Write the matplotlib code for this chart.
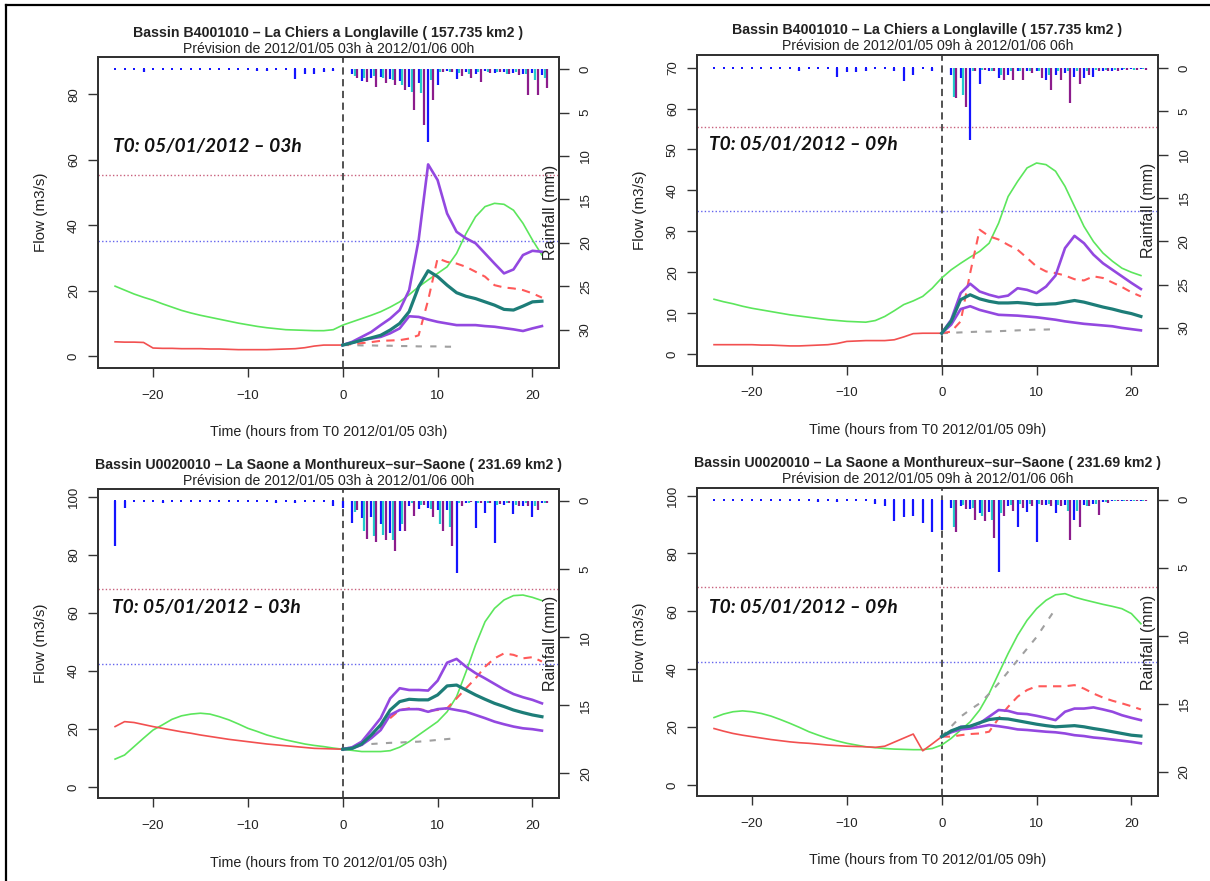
import numpy as np
import matplotlib.pyplot as plt
from matplotlib.lines import Line2D

plt.rcParams['font.family'] = ['Liberation Sans', 'DejaVu Sans']

# Heures (par rapport a T0)
h_obs = np.arange(-24, 1)      # debits observes
h_all = np.arange(-24, 22)     # simulation continue (verte)
h_fc = np.arange(0, 22)        # previsions
h_pers = np.arange(0, 13)      # persistance (grise)
h_rain_obs = np.arange(-24, 1)
h_rain_fc = np.arange(1, 22)

# ---- Panneau 1 : La Chiers, T0 = 03h ----
green_1 = [21.4, 20.2, 19.0, 18.0, 17.1, 16.0, 15.0, 14.0, 13.2, 12.5, 11.9, 11.3, 10.7, 10.1, 9.6, 9.1,
           8.7, 8.4, 8.1, 8.0, 7.9, 7.8, 7.8, 8.1, 9.5, 10.5, 11.5, 12.5, 13.6, 15.0, 16.6, 18.8, 21.2,
           23.3, 25.3, 27.3, 31.4, 37.5, 42.6, 45.7, 46.7, 46.4, 44.6, 40.6, 35.5, 30.9]
obs_1 = [4.4, 4.3, 4.3, 4.2, 2.5, 2.4, 2.4, 2.3, 2.3, 2.3, 2.2, 2.2, 2.1, 2.0, 2.0, 2.0, 2.0, 2.1, 2.2,
         2.3, 2.6, 3.1, 3.4, 3.4, 3.4]
fcst_1 = [3.4, 3.7, 4.0, 4.3, 4.7, 4.8, 4.9, 5.4, 6.4, 17.1, 29.9, 28.8, 28.3, 27.3, 25.8, 24.3, 21.7,
          21.0, 20.7, 20.2, 19.2, 17.9]
pers_1 = [3.4, 3.4, 3.3, 3.3, 3.2, 3.2, 3.1, 3.1, 3.0, 3.0, 3.0, 2.9, 2.9]
q_hi_1 = [3.4, 4.4, 5.9, 7.4, 9.5, 11.5, 14.1, 20.2, 35.5, 58.6, 53.8, 43.6, 38.0, 36.0, 34.5, 31.4,
          28.3, 25.3, 26.5, 30.9, 32.2, 31.9]
q_med_1 = [3.4, 4.1, 4.9, 5.6, 6.4, 8.0, 10.0, 13.6, 21.2, 26.1, 24.3, 21.7, 19.4, 18.3, 17.6, 16.6,
           15.6, 14.3, 14.1, 15.3, 16.6, 16.8]
q_lo_1 = [3.4, 4.1, 4.9, 5.4, 5.9, 7.0, 8.5, 12.2, 12.0, 11.2, 10.5, 10.0, 9.5, 9.5, 9.5, 9.2, 9.0,
          8.6, 8.2, 7.7, 8.5, 9.2]
rain_obs_1 = [0, 0, 0, 0.3, 0, 0, 0, 0, 0, 0, 0, 0, 0, 0, 0, 0.2, 0.2, 0, 0, 1.1, 0.5, 0.5, 0.3, 0.2, 0]
rain_b_1 = [0.5, 1.4, 1.0, 0.9, 1.1, 1.4, 2.0, 1.6, 8.4, 1.8, 0.2, 1.1, 0.3, 0.5, 0.2, 0.4, 0.3, 0.4,
            0.5, 0.4, 0.7]
rain_c_1 = [0.8, 1.0, 0.8, 1.0, 1.3, 1.8, 2.6, 2.7, 1.2, 0.3, 0.3, 0.4, 0.6, 0.3, 0.3, 0.3, 0.5, 0.3,
            0.6, 1.3, 1.0]
rain_p_1 = [1.0, 1.5, 2.0, 1.6, 1.8, 2.4, 4.7, 6.4, 3.6, 0.3, 0.3, 0.8, 1.0, 1.5, 0.4, 0.3, 0.6, 0.7,
            3.0, 3.0, 2.2]

# ---- Panneau 2 : La Chiers, T0 = 09h ----
green_2 = [13.4, 12.8, 12.3, 11.7, 11.2, 10.8, 10.4, 10.0, 9.6, 9.3, 9.0, 8.7, 8.4, 8.2, 8.0, 7.9, 7.8,
           8.2, 9.2, 10.6, 12.1, 13.0, 14.1, 16.1, 18.6, 20.6, 22.2, 23.7, 25.1, 27.1, 32.0, 38.5,
           42.2, 45.5, 46.7, 46.3, 44.7, 41.0, 36.1, 31.2, 27.5, 24.7, 22.7, 21.0, 20.0, 19.2]
obs_2 = [2.3, 2.3, 2.3, 2.3, 2.3, 2.2, 2.2, 2.1, 2.0, 2.0, 2.1, 2.2, 2.3, 2.6, 3.1, 3.2, 3.3, 3.3, 3.3,
         3.5, 4.2, 5.0, 5.1, 5.1, 5.1]
fcst_2 = [5.1, 5.5, 8.0, 19.8, 30.4, 28.8, 28.0, 26.7, 25.5, 23.5, 21.4, 20.2, 19.8, 19.2, 18.3, 18.0,
          19.0, 18.6, 17.5, 16.4, 15.1, 14.1]
pers_2 = [5.1, 5.2, 5.3, 5.4, 5.5, 5.5, 5.6, 5.7, 5.8, 5.9, 6.0, 6.0, 6.1]
q_hi_2 = [5.1, 8.4, 14.9, 17.2, 15.3, 14.5, 13.9, 14.3, 16.1, 15.7, 14.9, 16.5, 19.2, 25.9, 28.9, 27.1,
          24.3, 22.2, 20.6, 19.0, 17.4, 15.9]
q_med_2 = [5.1, 8.0, 13.3, 14.5, 13.5, 12.9, 12.5, 12.5, 12.6, 12.4, 12.1, 12.2, 12.3, 12.7, 13.1,
           12.7, 12.1, 11.5, 11.0, 10.4, 9.9, 9.2]
q_lo_2 = [5.1, 7.2, 11.0, 11.7, 10.8, 10.2, 9.6, 9.5, 9.4, 9.2, 9.0, 8.7, 8.4, 8.0, 7.7, 7.4, 7.2, 7.0,
          6.8, 6.4, 6.1, 5.8]
rain_obs_2 = [0, 0, 0, 0, 0, 0, 0, 0, 0, 0.4, 0, 0, 0, 1.0, 0.5, 0.5, 0.4, 0, 0, 0.3, 1.5, 0.8, 0, 0.4, 0]
rain_b_2 = [0.8, 1.2, 8.3, 1.8, 0.3, 1.2, 0.8, 0.4, 0.4, 0.3, 1.4, 0.8, 0.6, 1.0, 1.2, 1.0, 0.3, 0.3,
            0.2, 0.1, 0.1]
rain_c_2 = [3.3, 3.1, 0.3, 0.2, 0.3, 0.8, 0.4, 0.3, 0.4, 0.3, 0.8, 0.4, 0.3, 0.4, 0.3, 0.2, 0.2, 0.2,
            0.1, 0.2, 0.1]
rain_p_2 = [3.5, 4.5, 0.3, 0.2, 0.4, 1.4, 1.4, 1.4, 0.6, 1.2, 2.5, 1.4, 4.1, 1.8, 0.8, 0.4, 0.3, 0.3,
            0.2, 0.2, 0.2]

# ---- Panneau 3 : La Saone, T0 = 03h ----
green_3 = [9.6, 11.0, 13.9, 16.8, 19.6, 21.4, 23.3, 24.5, 25.1, 25.4, 25.1, 24.2, 23.1, 21.7, 20.2,
           19.1, 17.9, 17.0, 16.2, 15.5, 14.8, 14.3, 13.9, 13.4, 13.0, 12.6, 12.2, 12.2, 12.2, 12.5,
           13.7, 15.6, 17.9, 20.2, 22.5, 25.9, 31.1, 39.7, 48.9, 56.9, 61.5, 64.4, 65.9, 66.1, 65.3, 64.2]
obs_3 = [20.8, 22.5, 22.2, 21.5, 20.8, 20.2, 19.6, 19.0, 18.5, 17.9, 17.4, 16.9, 16.4, 16.0, 15.6,
         15.2, 14.8, 14.5, 14.2, 13.9, 13.6, 13.3, 13.2, 13.1, 13.0]
fcst_3 = [13.0, 13.3, 14.8, 17.3, 20.6, 23.7, 26.5, 27.1, 26.8, 26.3, 26.5, 27.1, 30.5, 34.0, 37.4,
          41.4, 44.3, 46.0, 45.5, 44.3, 44.7, 43.2]
pers_3 = [13.0, 13.8, 14.5, 14.8, 15.0, 15.2, 15.3, 15.5, 15.6, 15.9, 16.2, 16.5, 16.8]
q_hi_3 = [13.0, 13.7, 15.6, 19.6, 23.7, 30.5, 34.0, 33.4, 33.4, 33.2, 36.6, 42.8, 44.1, 41.4, 39.2,
          37.4, 35.5, 33.6, 32.0, 30.9, 30.0, 28.8]
q_med_3 = [13.0, 13.3, 14.8, 17.9, 21.4, 26.5, 29.4, 30.2, 30.0, 30.0, 31.7, 34.8, 35.1, 33.4, 31.7,
           30.2, 28.8, 27.7, 26.5, 25.6, 24.8, 24.2]
q_lo_3 = [13.0, 13.3, 14.5, 16.8, 19.6, 24.8, 26.5, 26.8, 26.8, 25.9, 26.8, 27.1, 26.5, 25.9, 24.8,
          23.7, 22.5, 21.6, 20.8, 20.2, 19.9, 19.4]
rain_obs_3 = [3.3, 0.5, 0, 0, 0, 0.2, 0, 0, 0, 0, 0, 0, 0, 0, 0, 0, 0, 0.2, 0, 0.15, 0, 0, 0, 0.4, 0.5]
rain_b_3 = [1.6, 1.3, 1.2, 1.7, 2.4, 2.2, 0.4, 0.6, 0.5, 0.7, 0.7, 5.3, 0.2, 2.0, 0.9, 3.1, 0.3, 1.0,
            0.4, 1.2, 0.2]
rain_c_3 = [0.8, 2.2, 2.6, 2.5, 2.9, 1.7, 0.2, 0.3, 0.6, 1.7, 1.9, 0.2, 0.2, 0.2, 0.2, 0.3, 0.2, 0.3,
            0.2, 0.4, 0.2]
rain_p_3 = [0.7, 2.8, 3.0, 2.9, 3.7, 2.2, 1.1, 0.3, 1.2, 2.2, 3.3, 0.4, 0.1, 0.2, 0.15, 0.25, 0.15,
            0.4, 0.4, 0.7, 0.15]

# ---- Panneau 4 : La Saone, T0 = 09h ----
green_4 = [23.3, 24.5, 25.3, 25.6, 25.3, 24.7, 23.8, 22.6, 21.3, 19.9, 18.4, 17.2, 16.1, 15.2, 14.4,
           13.8, 13.2, 12.9, 12.6, 12.4, 12.3, 12.2, 12.2, 12.6, 13.8, 16.1, 19.0, 21.8, 25.9, 31.6,
           38.5, 45.4, 51.7, 56.9, 60.9, 63.8, 65.7, 66.1, 64.9, 64.0, 63.2, 62.4, 61.7, 60.9, 59.2, 55.7]
obs_4 = [19.5, 18.6, 17.8, 17.2, 16.7, 16.2, 15.7, 15.3, 14.9, 14.6, 14.4, 14.1, 13.8, 13.6, 13.4,
         13.3, 13.2, 13.0, 13.4, 14.8, 16.2, 17.6, 11.8, 14.2, 16.7]
fcst_4 = [16.7, 16.7, 17.2, 17.6, 17.8, 18.4, 23.0, 27.0, 30.5, 32.8, 34.1, 34.1, 34.1, 34.1, 34.5,
          33.3, 31.6, 30.2, 29.1, 28.2, 27.2, 26.1]
pers_4 = [16.7, 20.2, 23.6, 26.0, 28.2, 31.5, 35.1, 39.1, 43.1, 47.1, 51.1, 56.0, 60.9]
q_hi_4 = [16.7, 18.4, 20.1, 20.3, 21.3, 23.6, 25.9, 25.6, 24.7, 24.5, 23.9, 23.2, 22.4, 25.3, 26.4,
          26.4, 26.8, 26.1, 25.3, 24.1, 23.2, 22.4]
q_med_4 = [16.7, 18.7, 19.9, 20.3, 21.5, 22.6, 23.0, 22.8, 22.2, 21.6, 21.0, 20.5, 20.1, 20.3, 20.5,
           20.1, 19.5, 19.0, 18.4, 17.8, 17.2, 16.9]
q_lo_4 = [16.7, 18.2, 19.2, 19.5, 20.1, 20.7, 20.3, 19.8, 19.2, 19.0, 18.7, 18.4, 18.2, 17.8, 17.2,
          16.9, 16.4, 16.1, 15.7, 15.3, 14.9, 14.4]
rain_obs_4 = [0, 0, 0, 0, 0, 0, 0, 0, 0, 0, 0, 0.2, 0, 0.2, 0, 0, 0, 0.3, 0.5, 1.6, 1.3, 1.2, 1.7, 2.4, 2.2]
rain_b_4 = [0.6, 0.5, 0.7, 1.0, 0.9, 5.3, 0.5, 2.0, 0.9, 3.1, 0.4, 1.0, 0.4, 1.5, 0.4, 0.3, 0.2, 0.1,
            0.1, 0.1, 0.1]
rain_c_4 = [2.0, 0.4, 0.6, 1.2, 1.5, 1.0, 0.4, 0.3, 0.3, 0.3, 0.3, 0.4, 0.8, 0.8, 0.5, 0.3, 0.2, 0.1,
            0.1, 0.1, 0.1]
rain_p_4 = [2.4, 0.7, 1.5, 1.6, 2.8, 1.2, 0.85, 0.6, 0.5, 0.4, 0.5, 0.5, 3.0, 2.0, 0.5, 1.1, 0.25, 0.1,
            0.1, 0.1, 0.1]

# Textes
titles = ["Bassin B4001010 \u2013 La Chiers a Longlaville ( 157.735 km2 )",
          "Bassin B4001010 \u2013 La Chiers a Longlaville ( 157.735 km2 )",
          "Bassin U0020010 \u2013 La Saone a Monthureux\u2013sur\u2013Saone ( 231.69 km2 )",
          "Bassin U0020010 \u2013 La Saone a Monthureux\u2013sur\u2013Saone ( 231.69 km2 )"]
subtitles = ["Pr\u00e9vision de 2012/01/05 03h \u00e0 2012/01/06 00h",
             "Pr\u00e9vision de 2012/01/05 09h \u00e0 2012/01/06 06h",
             "Pr\u00e9vision de 2012/01/05 03h \u00e0 2012/01/06 00h",
             "Pr\u00e9vision de 2012/01/05 09h \u00e0 2012/01/06 06h"]
xlabels = ["Time (hours from T0 2012/01/05 03h)", "Time (hours from T0 2012/01/05 09h)",
           "Time (hours from T0 2012/01/05 03h)", "Time (hours from T0 2012/01/05 09h)"]
t0_labels = ["T0: 05/01/2012 \u2013 03h", "T0: 05/01/2012 \u2013 09h",
             "T0: 05/01/2012 \u2013 03h", "T0: 05/01/2012 \u2013 09h"]
seuil_haut = [55.5, 55.4, 68.3, 68.3]
seuil_bas = [35.1, 35.0, 42.5, 42.5]
flow_ticks = [np.arange(0, 81, 20), np.arange(0, 71, 10), np.arange(0, 101, 20), np.arange(0, 101, 20)]
rain_ticks = [np.arange(0, 31, 5), np.arange(0, 31, 5), np.arange(0, 21, 5), np.arange(0, 21, 5)]
flow_lims = [(-3.6, 91.4), (-2.9, 73.1), (-3.8, 102.6), (-3.8, 102.6)]
rain_lims = [(34.4, -1.4), (34.4, -1.5), (21.8, -0.86), (21.8, -0.86)]

greens = [green_1, green_2, green_3, green_4]
obss = [obs_1, obs_2, obs_3, obs_4]
fcsts = [fcst_1, fcst_2, fcst_3, fcst_4]
perss = [pers_1, pers_2, pers_3, pers_4]
q_his = [q_hi_1, q_hi_2, q_hi_3, q_hi_4]
q_meds = [q_med_1, q_med_2, q_med_3, q_med_4]
q_los = [q_lo_1, q_lo_2, q_lo_3, q_lo_4]
rain_obss = [rain_obs_1, rain_obs_2, rain_obs_3, rain_obs_4]
rain_bs = [rain_b_1, rain_b_2, rain_b_3, rain_b_4]
rain_cs = [rain_c_1, rain_c_2, rain_c_3, rain_c_4]
rain_ps = [rain_p_1, rain_p_2, rain_p_3, rain_p_4]

# position des axes (fraction de la figure)
rects = [[0.081, 0.5823, 0.381, 0.353], [0.576, 0.5846, 0.381, 0.353],
         [0.081, 0.0942, 0.381, 0.3507], [0.576, 0.0965, 0.381, 0.3496]]
t0_pos = [(0.0325, 0.695), (0.026, 0.695), (0.03, 0.60), (0.026, 0.595)]

PX = 0.72  # points par pixel (dpi 100)

fig = plt.figure(figsize=(12.1, 8.81), dpi=100)

for i in range(4):
    ax = fig.add_axes(rects[i])
    ax2 = ax.twinx()

    # lignes de debit
    ax.axhline(seuil_haut[i], color='#c8607c', lw=1.0, ls=(0, (1, 1.6)), zorder=1)
    ax.axhline(seuil_bas[i], color='#6464ee', lw=1.0, ls=(0, (1, 1.6)), zorder=1)
    ax.axvline(0, color='#444444', lw=1.3, ls=(0, (4, 2.5)), zorder=2)
    ax.plot(h_all, greens[i], color='#5ce65c', lw=1.2, zorder=3)
    ax.plot(h_obs, obss[i], color='#f25050', lw=1.2, zorder=3)
    ax.plot(h_pers, perss[i], color='#a0a0a0', lw=1.5, ls=(0, (3, 4)), zorder=3)
    ax.plot(h_fc, fcsts[i], color='#ff5a5a', lw=1.5, ls=(0, (4, 3)), zorder=3)
    ax.plot(h_fc, q_his[i], color='#9348e0', lw=1.9, zorder=4)
    ax.plot(h_fc, q_los[i], color='#9348e0', lw=1.9, zorder=4)
    ax.plot(h_fc, q_meds[i], color='#1d7d78', lw=2.3, zorder=5)

    # pluies (axe de droite inverse)
    ax2.vlines(h_rain_obs, 0, rain_obss[i], color='#1414ff', lw=1.6)
    ax2.plot(h_rain_obs[:-1], np.zeros(len(h_rain_obs) - 1), ls='none', marker='s', ms=2.1,
             color='#1414ff', mew=0)
    ax2.vlines(h_rain_fc, 0, rain_bs[i], color='#1414ff', lw=1.6)
    ax2.vlines(h_rain_fc + 0.27, 0, rain_cs[i], color='#22cccc', lw=1.6)
    ax2.vlines(h_rain_fc + 0.54, 0, rain_ps[i], color='#8c1c8c', lw=1.6)

    ax.set_xlim(-25.8, 22.8)
    ax.set_ylim(*flow_lims[i])
    ax2.set_ylim(*rain_lims[i])
    ax.set_xticks([-20, -10, 0, 10, 20])
    ax.set_yticks(flow_ticks[i])
    ax2.set_yticks(rain_ticks[i])

    for a in (ax, ax2):
        for s in a.spines.values():
            s.set_linewidth(1.4)
            s.set_color('#333333')
    ax.tick_params(axis='x', direction='out', length=6.5, width=1.0, color='#333333',
                   labelsize=9.5, pad=9, labelcolor='#222222')
    ax.tick_params(axis='y', direction='out', length=7, width=1.0, color='#333333',
                   labelsize=9.5, pad=6, labelcolor='#222222')
    ax2.tick_params(axis='y', direction='out', length=7, width=1.0, color='#333333',
                    labelsize=9.5, pad=8, labelcolor='#222222')
    plt.setp(ax.get_yticklabels(), rotation=90, va='center')
    plt.setp(ax2.get_yticklabels(), rotation=90, va='center')

    # titres et libelles
    ax2.annotate(titles[i], xy=(0.5, 1), xycoords='axes fraction', xytext=(0, 24.5 * PX),
                 textcoords='offset points', ha='center', va='center', fontsize=10.2,
                 fontweight='bold', color='#222222')
    ax2.annotate(subtitles[i], xy=(0.5, 1), xycoords='axes fraction', xytext=(0, 8.5 * PX),
                 textcoords='offset points', ha='center', va='center', fontsize=10.1, color='#222222')
    ax2.annotate(xlabels[i], xy=(0.5, 0), xycoords='axes fraction', xytext=(0, -64.5 * PX),
                 textcoords='offset points', ha='center', va='center', fontsize=10.3, color='#222222')
    ax2.annotate("Flow (m3/s)", xy=(0, 0.5), xycoords='axes fraction', xytext=(-57 * PX, 0),
                 textcoords='offset points', ha='center', va='center', fontsize=11,
                 rotation=90, color='#222222')
    ax2.annotate("Rainfall (mm)", xy=(1, 0.5), xycoords='axes fraction', xytext=(-9 * PX, 0),
                 textcoords='offset points', ha='center', va='center', fontsize=11.5,
                 rotation=90, color='#222222')
    ax2.text(t0_pos[i][0], t0_pos[i][1], t0_labels[i], transform=ax.transAxes,
             fontsize=13.8, fontweight='bold', fontstyle='italic', va='baseline', ha='left',
             family=['Lato', 'Liberation Sans'], color='#111111')

# cadre de l'image
fig.add_artist(Line2D([6 / 1210, 6 / 1210], [0, 1 - 5 / 881], transform=fig.transFigure,
                      color='black', lw=1.6))
fig.add_artist(Line2D([6 / 1210, 1], [1 - 5 / 881, 1 - 5 / 881], transform=fig.transFigure,
                      color='black', lw=1.6))

fig.savefig('out.png', dpi=100)
